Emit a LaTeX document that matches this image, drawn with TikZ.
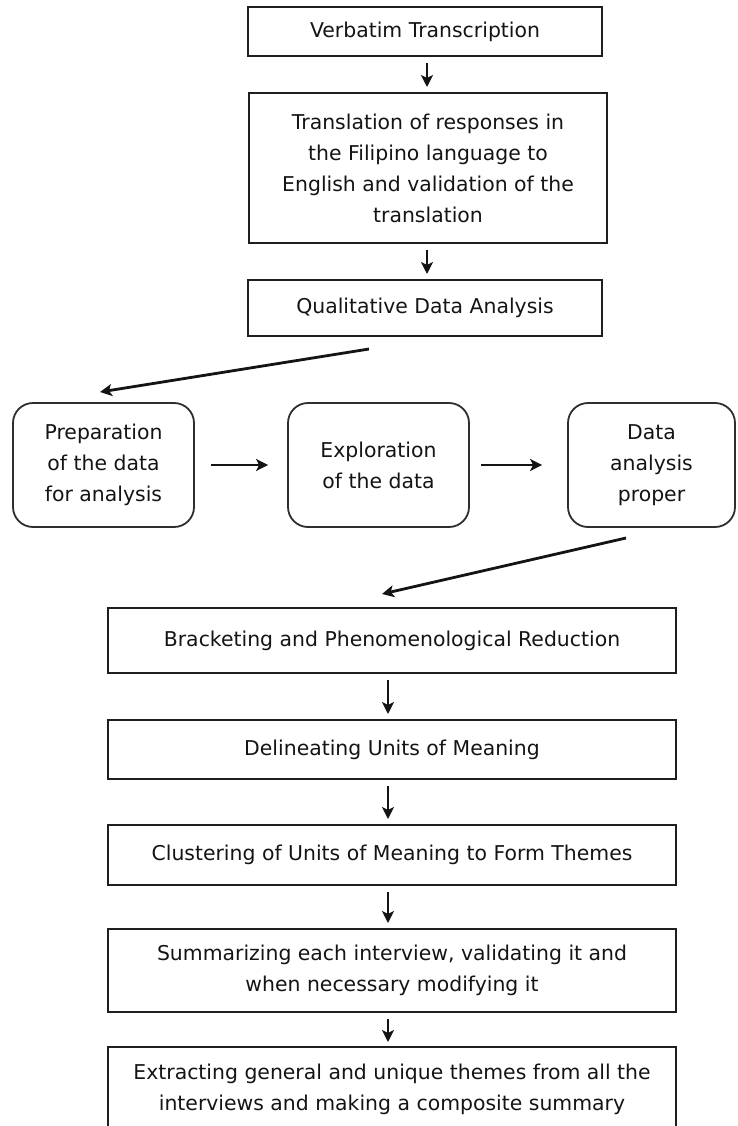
\documentclass[tikz,border=0pt]{standalone}
\usepackage{fontspec}
\setmainfont{DejaVu Sans}
\usetikzlibrary{arrows.meta}
\begin{document}
\begin{tikzpicture}[x=1pt,y=-1pt,
  txt/.style={font=\fontsize{20.4}{31}\selectfont, align=center, text=black!92},
  sqbox/.style={txt, draw=black!88, line width=2pt, inner sep=0pt},
  rbox/.style={txt, draw=black!82, line width=1.8pt, rounded corners=20pt, inner sep=0pt},
  arr/.style={line width=2.8pt, draw=black!92, -{Stealth[length=12pt,width=12pt,inset=3pt]}},
  varr/.style={arr, shorten <=6pt, shorten >=5pt}
]
\useasboundingbox (0,0) rectangle (738,1126);
% top chain
\node[sqbox, minimum width=354pt, minimum height=49pt] (b1) at (425,31.5) {Verbatim Transcription};
\node[sqbox, minimum width=358pt, minimum height=150pt] (b2) at (428,168) {Translation of responses in\\the Filipino language to\\English and validation of the\\translation};
\node[sqbox, minimum width=354pt, minimum height=56pt] (b3) at (425,308) {Qualitative Data Analysis};
% rounded row
\node[rbox, minimum width=181pt, minimum height=124pt] (r1) at (103.5,465) {Preparation\\of the data\\for analysis};
\node[rbox, minimum width=181pt, minimum height=124pt] (r2) at (378.5,465) {Exploration\\of the data};
\node[rbox, minimum width=167pt, minimum height=124pt] (r3) at (651.5,465) {Data\\analysis\\proper};
% lower chain
\node[sqbox, minimum width=568pt, minimum height=65pt] (c1) at (392,640.5) {Bracketing and Phenomenological Reduction};
\node[sqbox, minimum width=568pt, minimum height=59pt] (c2) at (392,749.5) {Delineating Units of Meaning};
\node[sqbox, minimum width=568pt, minimum height=60pt] (c3) at (392,855) {Clustering of Units of Meaning to Form Themes};
\node[sqbox, minimum width=568pt, minimum height=83pt] (c4) at (392,970.5) {Summarizing each interview, validating it and\\when necessary modifying it};
\draw[line width=2pt, draw=black!88] (108,1140) |- (676,1047) -- (676,1140);
\node[txt] (c5) at (392,1089) {Extracting general and unique themes from all the\\interviews and making a composite summary};
% connectors
\draw[varr] (b1.south -| 427,0) -- (b2.north -| 427,0);
\draw[varr] (b2.south -| 427,0) -- (b3.north -| 427,0);
\coordinate (d1s) at (369,349);
\coordinate (d1e) at (100,392);
\draw[arr] (d1s) -- (d1e);
\draw[arr, shorten <=16pt, shorten >=19pt] (r1.east) -- (r2.west);
\draw[arr, shorten <=11pt, shorten >=25pt] (r2.east) -- (r3.west);
\coordinate (d2s) at (626,538);
\coordinate (d2e) at (382,594);
\draw[arr] (d2s) -- (d2e);
\draw[varr] ([xshift=-4pt]c1.south) -- ([xshift=-4pt]c2.north);
\draw[varr] ([xshift=-4pt]c2.south) -- ([xshift=-4pt]c3.north);
\draw[varr] ([xshift=-4pt]c3.south) -- ([xshift=-4pt]c4.north);
\draw[varr] ([xshift=-4pt]c4.south) -- ([xshift=-4pt]c4.south |- 0,1047);
\end{tikzpicture}
\end{document}
